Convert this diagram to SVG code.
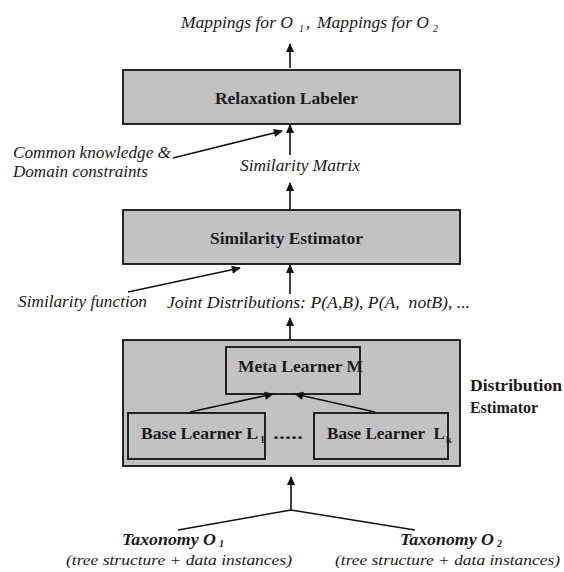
<svg xmlns="http://www.w3.org/2000/svg" width="564" height="572" viewBox="0 0 564 572">
  <style>
    .it { font-family: "Liberation Serif", "Times New Roman", serif; font-style: italic; font-size: 16.5px; fill: #1a1a1a; }
    .bd { font-family: "Liberation Serif", "Times New Roman", serif; font-weight: bold; font-size: 17px; fill: #1a1a1a; }
    .bi { font-family: "Liberation Serif", "Times New Roman", serif; font-weight: bold; font-style: italic; font-size: 16px; fill: #1a1a1a; }
    .sm { font-size: 15.5px; }
    .sub { font-size: 10px; }
    .box { fill: #c2c2c2; stroke: #111; stroke-width: 1.8; }
    .edge { stroke: #111; stroke-width: 1.6; fill: none; }
    .arr { marker-end: url(#head); }
  </style>
  <defs>
    <marker id="head" markerUnits="userSpaceOnUse" viewBox="0 0 10 10" refX="9" refY="5" markerWidth="10" markerHeight="9" orient="auto">
      <path d="M0,0.5 L10,5 L0,9.5 z" fill="#111"/>
    </marker>
  </defs>
  <rect width="564" height="572" fill="#fff"/>

  <!-- output labels -->
  <g id="output">
    <text class="it" x="181" y="28" textLength="112" lengthAdjust="spacingAndGlyphs">Mappings for O</text>
    <text class="it sub" x="299" y="32">1</text>
    <text class="it" x="306" y="28">,</text>
    <text class="it" x="317" y="28" textLength="112" lengthAdjust="spacingAndGlyphs">Mappings for O</text>
    <text class="it sub" x="433" y="32">2</text>
  </g>

  <g id="relaxation-labeler">
    <rect class="box" x="123" y="70" width="337" height="54"/>
    <text class="bd" x="215" y="104" textLength="143" lengthAdjust="spacingAndGlyphs">Relaxation Labeler</text>
  </g>

  <g id="constraints">
    <text class="it" x="13" y="158" textLength="158" lengthAdjust="spacingAndGlyphs">Common knowledge &amp;</text>
    <text class="it" x="13" y="177" textLength="135" lengthAdjust="spacingAndGlyphs">Domain constraints</text>
  </g>

  <g id="similarity-matrix">
    <text class="it" x="240" y="171" textLength="120" lengthAdjust="spacingAndGlyphs">Similarity Matrix</text>
  </g>

  <g id="similarity-estimator">
    <rect class="box" x="123" y="210" width="337" height="54"/>
    <text class="bd" x="210" y="244" textLength="153" lengthAdjust="spacingAndGlyphs">Similarity Estimator</text>
  </g>

  <g id="similarity-function">
    <text class="it" x="18" y="307" textLength="129" lengthAdjust="spacingAndGlyphs">Similarity function</text>
  </g>

  <g id="joint-distributions">
    <text class="it" x="167" y="308" textLength="303" lengthAdjust="spacingAndGlyphs">Joint Distributions: P(A,B), P(A,&#160; notB), ...</text>
  </g>

  <g id="distribution-estimator">
    <rect class="box" x="123" y="340" width="337" height="126" stroke-width="2"/>
    <text class="bd" x="470" y="391" textLength="92" lengthAdjust="spacingAndGlyphs">Distribution</text>
    <text class="bd" x="470" y="413" textLength="68" lengthAdjust="spacingAndGlyphs">Estimator</text>
  </g>

  <g id="meta-learner">
    <rect class="box" x="226" y="347" width="134" height="47"/>
    <text class="bd" x="238" y="372" textLength="125" lengthAdjust="spacingAndGlyphs">Meta Learner M</text>
  </g>

  <g id="base-learner-1">
    <rect class="box" x="128" y="413" width="137" height="46"/>
    <text class="bd" x="141" y="439" textLength="117" lengthAdjust="spacingAndGlyphs">Base Learner L</text>
    <text class="bd sub" x="260" y="443">1</text>
  </g>

  <g id="ellipsis">
    <text class="bd" x="273" y="439" textLength="30" lengthAdjust="spacingAndGlyphs">.....</text>
  </g>

  <g id="base-learner-k">
    <rect class="box" x="314" y="413" width="134" height="46"/>
    <text class="bd" x="327" y="439" textLength="118" lengthAdjust="spacingAndGlyphs">Base Learner&#160; L</text>
    <text class="bd sub" x="446" y="443">k</text>
  </g>

  <g id="taxonomy-1">
    <text class="bi" x="122" y="545" textLength="94" lengthAdjust="spacingAndGlyphs">Taxonomy O</text>
    <text class="bi sub" x="219" y="547">1</text>
    <text class="it sm" x="66" y="565" textLength="226" lengthAdjust="spacingAndGlyphs">(tree structure + data instances)</text>
  </g>

  <g id="taxonomy-2">
    <text class="bi" x="400" y="545" textLength="94" lengthAdjust="spacingAndGlyphs">Taxonomy O</text>
    <text class="bi sub" x="497" y="547">2</text>
    <text class="it sm" x="335" y="565" textLength="225" lengthAdjust="spacingAndGlyphs">(tree structure + data instances)</text>
  </g>

  <!-- connectors -->
  <g id="connectors">
    <line class="edge arr" x1="290" y1="68" x2="290" y2="44"/>
    <line class="edge arr" x1="290" y1="155" x2="290" y2="125"/>
    <line class="edge arr" x1="173" y1="158" x2="282" y2="131"/>
    <line class="edge arr" x1="290" y1="210" x2="290" y2="183"/>
    <line class="edge arr" x1="290" y1="294" x2="290" y2="265"/>
    <line class="edge arr" x1="128" y1="292" x2="240" y2="268"/>
    <line class="edge arr" x1="290" y1="340" x2="290" y2="318"/>
    <line class="edge arr" x1="190" y1="412" x2="273" y2="394"/>
    <line class="edge arr" x1="375" y1="412" x2="295" y2="394"/>
    <line class="edge arr" x1="291" y1="510" x2="291" y2="477"/>
    <polyline class="edge" points="178,530 291,510 415,530"/>
  </g>
</svg>
